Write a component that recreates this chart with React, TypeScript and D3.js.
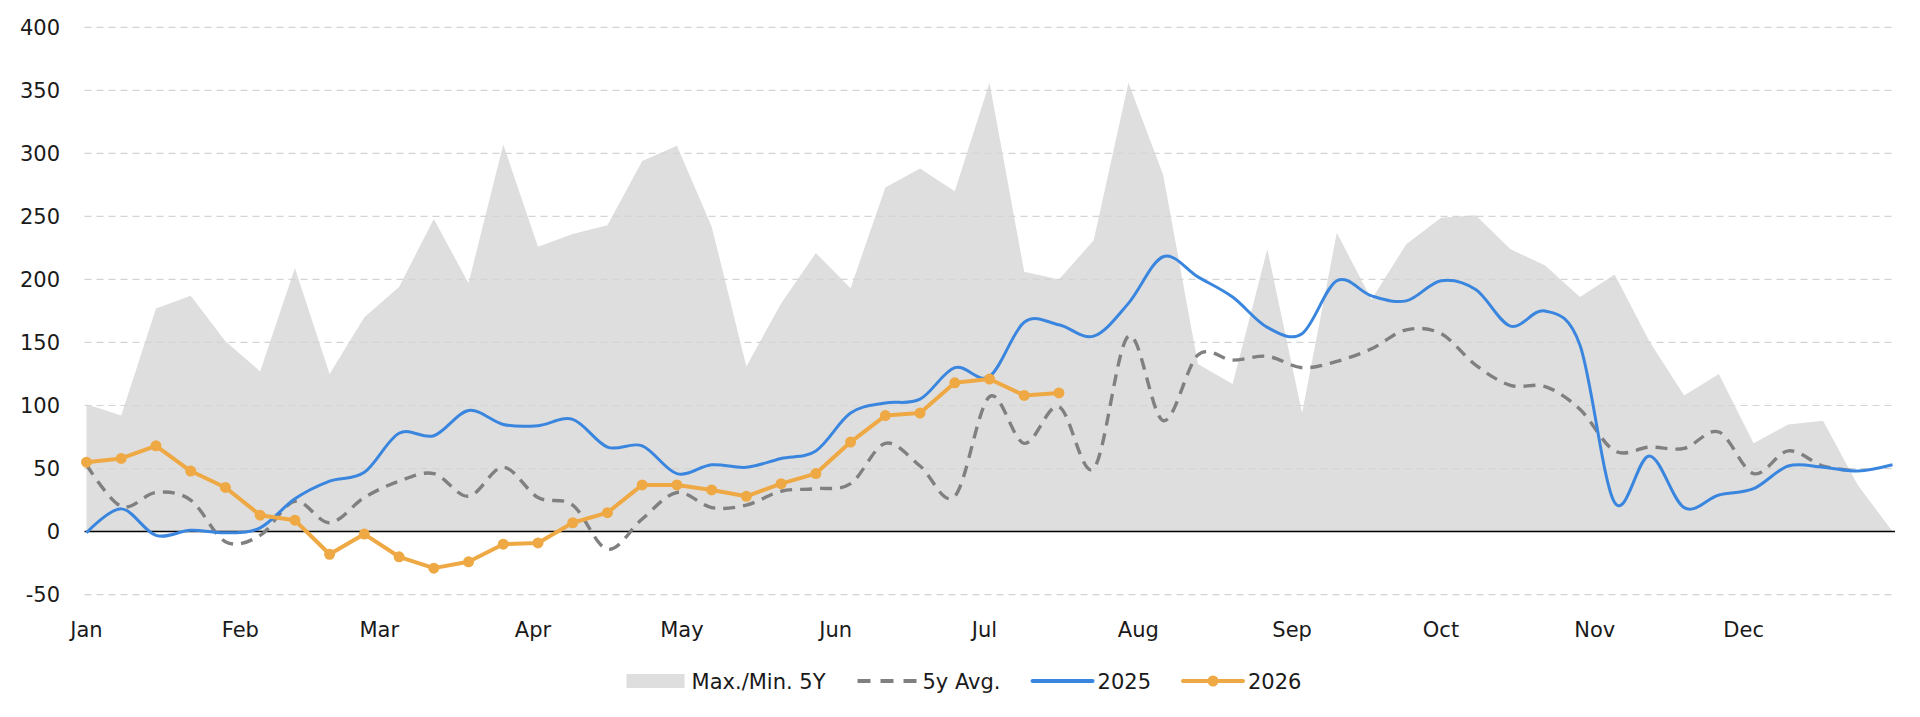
import React, { useRef, useEffect } from 'react';
import * as d3 from 'd3';

// ─── Data: one value per week, first week starting Jan 1 ────────────────────
const maxMin5y = [
    101, 92, 177, 187, 151, 127, 209, 125, 170, 194,
    248, 197, 307, 226, 236, 243, 294, 306, 242, 131,
    181, 221, 193, 273, 288, 270, 356, 206, 200, 231,
    356, 283, 133, 117, 224, 94, 237, 184, 228, 249,
    251, 224, 211, 186, 204, 151, 108, 125, 70, 85,
    88, 37, 0,
];

const avg5y = [
    53, 20, 31, 25, -8, -3, 24, 7, 27, 40,
    46, 28, 51, 27, 21, -14, 10, 31, 19, 21,
    32, 34, 38, 70, 52, 28, 107, 70, 99, 50,
    155, 88, 140, 136, 139, 130, 135, 145, 160, 157,
    132, 116, 115, 97, 64, 67, 66, 79, 46, 64,
    52, 48,
];

const y2025 = [
    -1, 18, -3, 1, -1, 3, 26, 40, 47, 78,
    76, 96, 85, 84, 89, 67, 68, 46, 53, 51,
    58, 64, 94, 102, 105, 130, 123, 166, 164, 155,
    181, 218, 202, 186, 162, 157, 199, 187, 183, 199,
    192, 163, 175, 148, 23, 60, 19, 29, 34, 52,
    51, 48, 53,
];

const y2026 = [
    55, 58, 68, 48, 35, 13, 9, -18, -2, -20,
    -29, -24, -10, -9, 7, 15, 37, 37, 33, 28,
    38, 46, 71, 92, 94, 118, 121, 108, 110,
];

const yTicks = [-50, 0, 50, 100, 150, 200, 250, 300, 350, 400];
const monthLabels = ['Jan', 'Feb', 'Mar', 'Apr', 'May', 'Jun', 'Jul', 'Aug', 'Sep', 'Oct', 'Nov', 'Dec'];
const legendLabels = ['Max./Min. 5Y', '5y Avg.', '2025', '2026'];

const WIDTH = 1920;
const HEIGHT = 717;
const FONT = "'DejaVu Sans', 'Open Sans', sans-serif";
const FONT_SIZE = '21px';

const COLORS = {
    band: '#dedede',
    grid: '#d4d4d4',
    avg: '#808080',
    y2025: '#3a86df',
    y2026: '#efa944',
    text: '#1a1a1a',
};

const yearStart = new Date(2025, 0, 1);
const weekDate = (i: number) => d3.timeDay.offset(yearStart, i * 7);

const SeasonalChart: React.FC = () => {
    const ref = useRef<SVGSVGElement | null>(null);

    useEffect(() => {
        if (!ref.current) return;

        const svg = d3.select(ref.current);
        svg.selectAll('*').remove();

        // ─── scales ──────────────────────────────────────────────────────────
        const x = d3
            .scaleTime()
            .domain([yearStart, new Date(2025, 11, 31)])
            .range([86.5, 1892.5]);

        const y = d3.scaleLinear().domain([-50, 400]).range([594.6, 27.3]);

        const xLeft = 84.5;
        const xRight = 1895;

        // ─── band (max / min) ────────────────────────────────────────────────
        const band = d3
            .area<number>()
            .x((_, i) => x(weekDate(i)))
            .y0(y(0))
            .y1(d => y(d));

        svg.append('path')
            .datum(maxMin5y)
            .attr('d', band)
            .attr('fill', COLORS.band);

        // ─── gridlines ───────────────────────────────────────────────────────
        svg.append('g')
            .selectAll('line')
            .data(yTicks.filter(t => t !== 0))
            .enter()
            .append('line')
            .attr('x1', xLeft)
            .attr('x2', xRight)
            .attr('y1', d => y(d))
            .attr('y2', d => y(d))
            .attr('stroke', COLORS.grid)
            .attr('stroke-width', 1.2)
            .attr('stroke-dasharray', '7,5');

        svg.append('line')
            .attr('x1', xLeft)
            .attr('x2', xRight)
            .attr('y1', y(0))
            .attr('y2', y(0))
            .attr('stroke', '#000')
            .attr('stroke-width', 1.4);

        // ─── y labels ────────────────────────────────────────────────────────
        svg.append('g')
            .selectAll('text')
            .data(yTicks)
            .enter()
            .append('text')
            .attr('x', 60)
            .attr('y', d => y(d))
            .attr('dy', '0.36em')
            .attr('text-anchor', 'end')
            .style('font-family', FONT)
            .style('font-size', FONT_SIZE)
            .style('fill', COLORS.text)
            .text(d => d);

        // ─── month labels ────────────────────────────────────────────────────
        svg.append('g')
            .selectAll('text')
            .data(monthLabels)
            .enter()
            .append('text')
            .attr('x', (_, i) => x(new Date(2025, i, 1)))
            .attr('y', 637)
            .attr('text-anchor', 'middle')
            .style('font-family', FONT)
            .style('font-size', FONT_SIZE)
            .style('fill', COLORS.text)
            .text(d => d);

        // ─── lines ───────────────────────────────────────────────────────────
        const smooth = d3
            .line<number>()
            .x((_, i) => x(weekDate(i)))
            .y(d => y(d))
            .curve(d3.curveCardinal.tension(0));

        svg.append('path')
            .datum(avg5y)
            .attr('d', smooth)
            .attr('fill', 'none')
            .attr('stroke', COLORS.avg)
            .attr('stroke-width', 3.4)
            .attr('stroke-dasharray', '12,8');

        svg.append('path')
            .datum(y2025)
            .attr('d', smooth)
            .attr('fill', 'none')
            .attr('stroke', COLORS.y2025)
            .attr('stroke-width', 3);

        const straight = d3
            .line<number>()
            .x((_, i) => x(weekDate(i)))
            .y(d => y(d));

        svg.append('path')
            .datum(y2026)
            .attr('d', straight)
            .attr('fill', 'none')
            .attr('stroke', COLORS.y2026)
            .attr('stroke-width', 4)
            .attr('stroke-linejoin', 'round');

        svg.append('g')
            .selectAll('circle')
            .data(y2026)
            .enter()
            .append('circle')
            .attr('cx', (_, i) => x(weekDate(i)))
            .attr('cy', d => y(d))
            .attr('r', 5.5)
            .attr('fill', COLORS.y2026);

        // ─── legend ──────────────────────────────────────────────────────────
        const symW = 60;
        const symGap = 5;
        const itemGap = 32;
        const legendY = 681;

        const legend = svg.append('g');
        const items = legend
            .selectAll('g')
            .data(legendLabels)
            .enter()
            .append('g');

        items.append('text')
            .attr('x', symW + symGap)
            .attr('y', legendY)
            .attr('dy', '0.36em')
            .style('font-family', FONT)
            .style('font-size', FONT_SIZE)
            .style('fill', COLORS.text)
            .text(d => d);

        items.each(function (_, i) {
            const g = d3.select(this);
            if (i === 0) {
                g.append('rect')
                    .attr('x', 0)
                    .attr('y', legendY - 7)
                    .attr('width', symW - 2)
                    .attr('height', 14)
                    .attr('fill', COLORS.band);
            } else if (i === 1) {
                g.append('line')
                    .attr('x1', 0).attr('x2', symW)
                    .attr('y1', legendY).attr('y2', legendY)
                    .attr('stroke', COLORS.avg)
                    .attr('stroke-width', 4)
                    .attr('stroke-dasharray', '13,10');
            } else {
                const c = i === 2 ? COLORS.y2025 : COLORS.y2026;
                g.append('line')
                    .attr('x1', 0).attr('x2', symW)
                    .attr('y1', legendY).attr('y2', legendY)
                    .attr('stroke', c)
                    .attr('stroke-width', 4)
                    .attr('stroke-linecap', 'round');
                if (i === 3) {
                    g.append('circle')
                        .attr('cx', symW / 2)
                        .attr('cy', legendY)
                        .attr('r', 5.5)
                        .attr('fill', c);
                }
            }
        });

        const widths: number[] = [];
        items.select('text').each(function () {
            widths.push((this as SVGTextElement).getComputedTextLength());
        });
        const total = d3.sum(widths, w => symW + symGap + w) + itemGap * (widths.length - 1);
        let cursor = 964 - total / 2;
        items.attr('transform', (_, i) => {
            const t = `translate(${cursor},0)`;
            cursor += symW + symGap + widths[i] + itemGap;
            return t;
        });
    }, []);

    return (
        <svg
            ref={ref}
            width={WIDTH}
            height={HEIGHT}
            style={{ position: 'absolute', left: 0, top: 0, background: '#fff' }}
        />
    );
};

export default function App() {
    return <SeasonalChart />;
}
